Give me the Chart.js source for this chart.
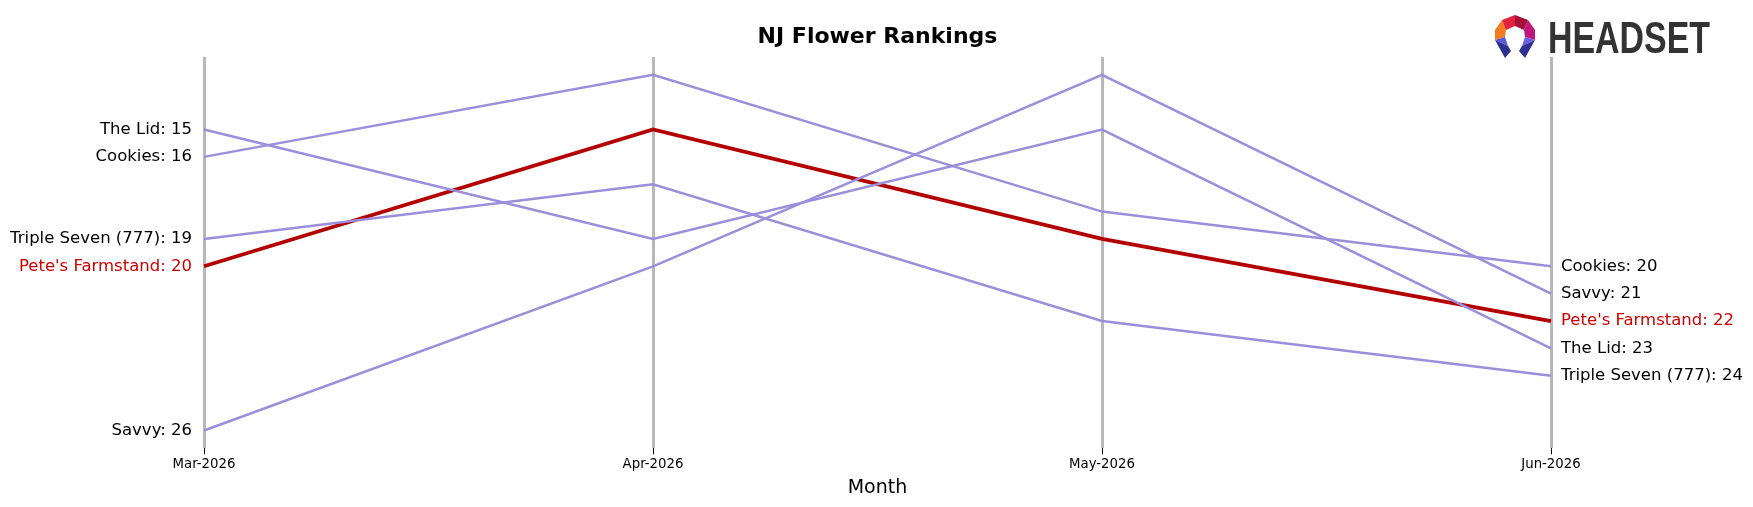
<!DOCTYPE html>
<html>
<head>
<meta charset="utf-8">
<title>NJ Flower Rankings</title>
<script src="https://cdn.jsdelivr.net/npm/chart.js@4.4.1/dist/chart.umd.min.js"></script>
<style>
  html, body { margin: 0; padding: 0; background: #ffffff; }
  #rankchart { display: block; }
</style>
</head>
<body>
<canvas id="rankchart" width="1753" height="507"></canvas>
<script>
const MONTHS = ["Mar-2026", "Apr-2026", "May-2026", "Jun-2026"];

// rank per month, lower number = better rank
const THE_LID = [15, 19, 15, 23];
const COOKIES = [16, 13, 18, 20];
const TRIPLE_SEVEN = [19, 17, 22, 24];
const SAVVY = [26, 20, 13, 21];
const PETES_FARMSTAND = [20, 15, 19, 22];

const BRANDS = ["The Lid", "Cookies", "Triple Seven (777)", "Savvy", "Pete's Farmstand"];
const RANKS = [THE_LID, COOKIES, TRIPLE_SEVEN, SAVVY, PETES_FARMSTAND];
const HIGHLIGHT = "Pete's Farmstand";

const PURPLE = "#9b8fdc";
const RED = "#b30000";
const LABEL_RED = "#cc0000";

(function (document) {
  "use strict";

  const FONT = "'DejaVu Sans', 'Liberation Sans', sans-serif";

  const datasets = BRANDS.map((name, i) => {
    const isMain = name === HIGHLIGHT;
    return {
      label: name,
      data: RANKS[i],
      borderColor: isMain ? RED : PURPLE,
      borderWidth: isMain ? 3.8 : 2.5,
      pointRadius: 0,
      tension: 0,
      fill: false,
    };
  });

  // "Brand: rank" labels at both ends of every line
  const endLabels = {
    id: "endLabels",
    afterDatasetsDraw: (chart) => {
      const { ctx } = chart;
      const xScale = chart.scales.x;
      const yScale = chart.scales.y;
      const last = MONTHS.length - 1;
      ctx.save();
      ctx.font = `16.5px ${FONT}`;
      ctx.textBaseline = "middle";
      chart.data.datasets.forEach((ds) => {
        ctx.fillStyle = ds.label === HIGHLIGHT ? LABEL_RED : "#000000";
        ctx.textAlign = "right";
        ctx.fillText(`${ds.label}: ${ds.data[0]}`, xScale.getPixelForValue(0) - 12, yScale.getPixelForValue(ds.data[0]));
        ctx.textAlign = "left";
        ctx.fillText(`${ds.label}: ${ds.data[last]}`, xScale.getPixelForValue(last) + 10, yScale.getPixelForValue(ds.data[last]));
      });
      ctx.restore();
    },
  };

  // Headset logo in the top right corner
  const headsetLogo = {
    id: "headsetLogo",
    afterDraw: (chart) => {
      const { ctx } = chart;
      const ox = 1495;
      const oy = 15;
      const pieces = [
        ["#f47b20", [[7, 5], [0, 15], [0, 25], [10, 22], [11, 15]]],
        ["#e2223f", [[7, 5], [20, 0], [20, 11], [11, 15]]],
        ["#a8103a", [[20, 0], [33, 5], [29, 15], [20, 11]]],
        ["#c0187a", [[33, 5], [40, 15], [40, 25], [30, 22], [29, 15]]],
        ["#5b57d9", [[0, 25], [10, 22], [13, 31]]],
        ["#2e3192", [[0, 25], [13, 31], [16, 36], [10, 43]]],
        ["#6a60e3", [[40, 25], [30, 22], [27, 31]]],
        ["#2e3192", [[40, 25], [27, 31], [24, 36], [30, 43]]],
      ];
      ctx.save();
      pieces.forEach(([color, pts]) => {
        ctx.beginPath();
        pts.forEach(([px, py], k) => {
          if (k === 0) ctx.moveTo(ox + px, oy + py);
          else ctx.lineTo(ox + px, oy + py);
        });
        ctx.closePath();
        ctx.fillStyle = color;
        ctx.fill();
      });
      ctx.font = `bold 44px 'Liberation Sans', sans-serif`;
      ctx.fillStyle = "#333333";
      ctx.textBaseline = "alphabetic";
      const w = ctx.measureText("HEADSET").width;
      ctx.translate(1548, 53);
      ctx.scale(162 / w, 1);
      ctx.fillText("HEADSET", 0, 0);
      ctx.restore();
    },
  };

  const ctx = document.getElementById("rankchart").getContext("2d");
  new Chart(ctx, {
    type: "line",
    data: {
      labels: MONTHS,
      datasets: datasets,
    },
    options: {
      responsive: false,
      animation: false,
      devicePixelRatio: 1,
      layout: {
        padding: { left: 204, right: 202, top: 0, bottom: 6 },
      },
      plugins: {
        legend: { display: false },
        tooltip: { enabled: false },
        title: {
          display: true,
          text: "NJ Flower Rankings",
          color: "#000000",
          font: { family: FONT, size: 22, weight: "bold" },
          padding: { top: 24, bottom: 6.6 },
        },
      },
      scales: {
        x: {
          type: "category",
          offset: false,
          border: { display: false },
          grid: {
            color: "#b8b8b8",
            lineWidth: 3,
            drawTicks: true,
            tickLength: 6,
            tickColor: "#000000",
            tickWidth: 1,
          },
          ticks: {
            color: "#000000",
            padding: 2,
            maxRotation: 0,
            font: { family: FONT, size: 13.3 },
          },
          title: {
            display: true,
            text: "Month",
            color: "#000000",
            font: { family: FONT, size: 19 },
            padding: { top: 2, bottom: 2 },
          },
        },
        y: {
          display: false,
          reverse: true,
          min: 12.35,
          max: 26.65,
        },
      },
    },
    plugins: [endLabels, headsetLogo],
  });
})(document);
</script>
</body>
</html>
